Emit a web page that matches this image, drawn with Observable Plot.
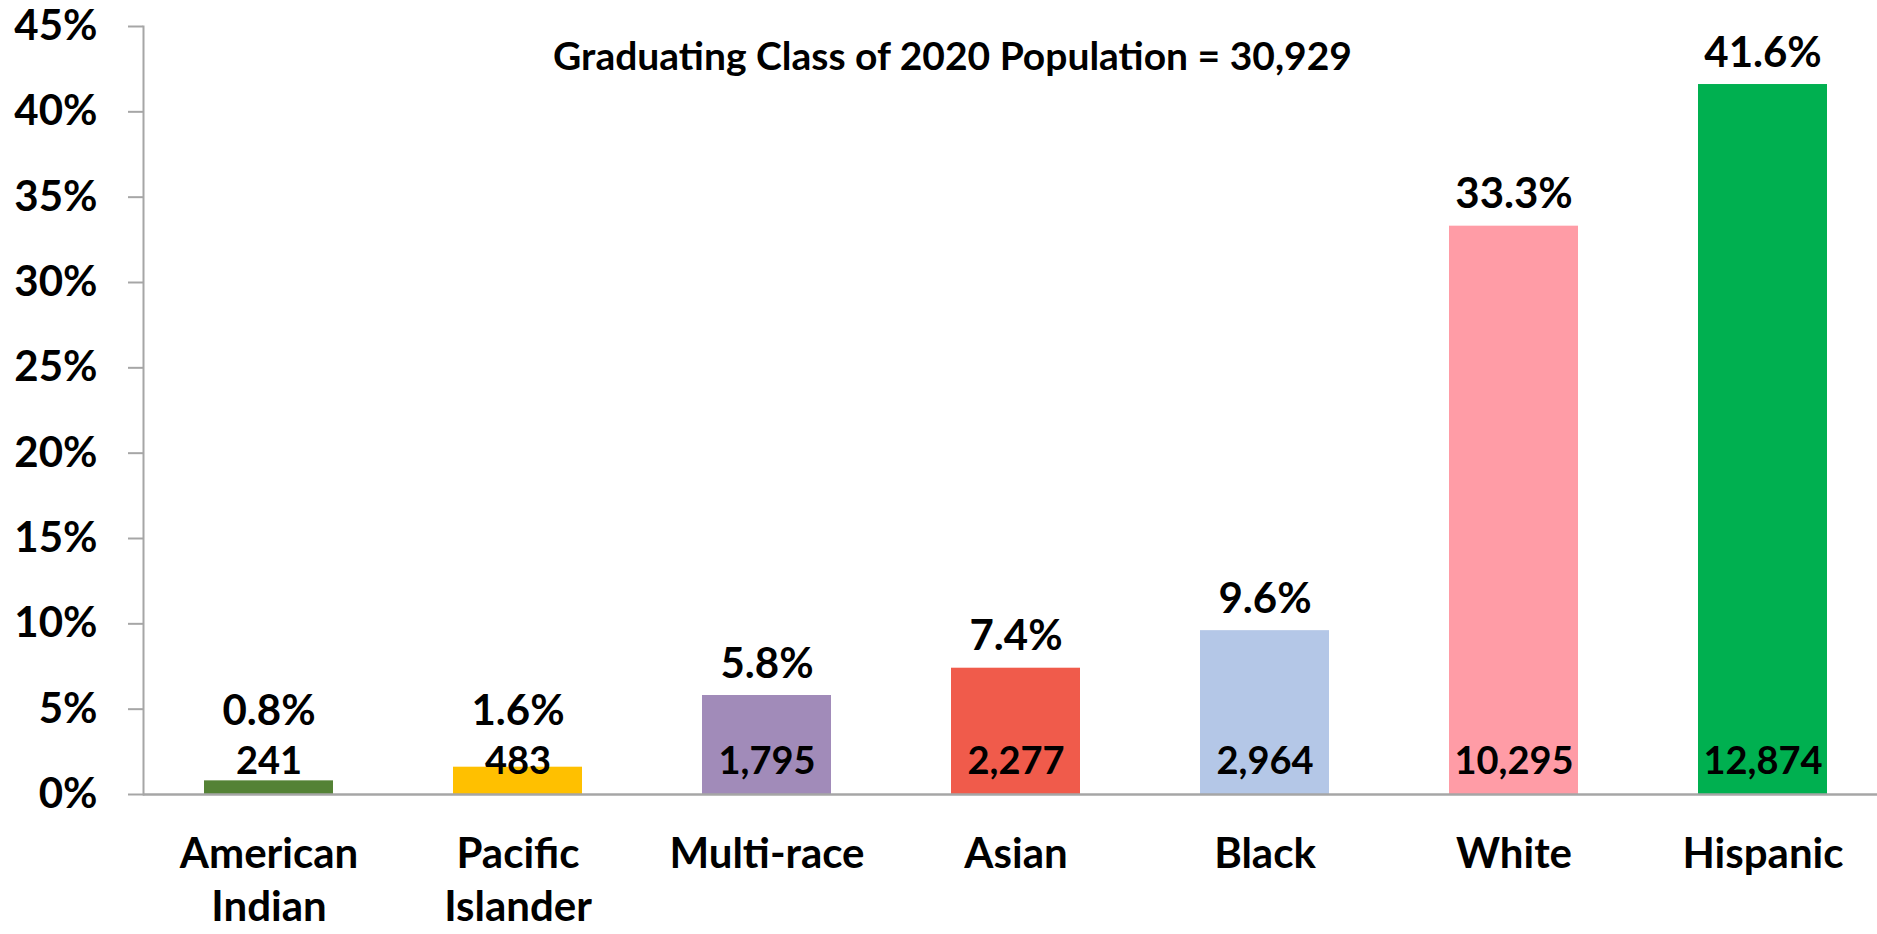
<!DOCTYPE html>
<html>
<head>
<meta charset="utf-8">
<script src="https://cdn.jsdelivr.net/npm/d3@7"></script>
<script src="https://cdn.jsdelivr.net/npm/@observablehq/plot@0.6"></script>
<style>
  html, body { margin: 0; padding: 0; background: #fff; overflow: hidden; }
  #wrap { position: relative; width: 1877px; height: 934px; }
  #title { position: absolute; top: 32px; left: 0; width: 1877px; padding-left: 28px; box-sizing: border-box;
           text-align: center; font-family: Lato, "Liberation Sans", sans-serif; font-weight: bold; font-size: 39px; color: #000; }
  svg { overflow: visible; }
</style>
</head>
<body>
<div id="wrap">
  <div id="chart"></div>
  <div id="title">Graduating Class of 2020 Population = 30,929</div>
</div>
<script>
const categories = ["American Indian", "Pacific Islander", "Multi-race", "Asian", "Black", "White", "Hispanic"];
const axisLabels = ["American\nIndian", "Pacific\nIslander", "Multi-race", "Asian", "Black", "White", "Hispanic"];
const percents = [0.8, 1.6, 5.8, 7.4, 9.6, 33.3, 41.6];
const counts = [241, 483, 1795, 2277, 2964, 10295, 12874];
const colors = ["#548235", "#ffc000", "#a18bb9", "#f05b4b", "#b4c7e7", "#ff9ca6", "#00b050"];
const yTicks = [0, 5, 10, 15, 20, 25, 30, 35, 40, 45];

const data = categories.map((c, i) => ({cat: c, pct: percents[i], count: counts[i]}));
const labelOf = new Map(categories.map((c, i) => [c, axisLabels[i]]));
const gray = "#a6a6a6";

const chart = Plot.plot({
  width: 1877,
  height: 934,
  marginTop: 26,
  marginBottom: 140,
  marginLeft: 143,
  marginRight: -11,
  style: {fontFamily: "Lato, 'Liberation Sans', sans-serif", color: "#000", background: "#fff"},
  x: {domain: categories, paddingInner: 0.48, paddingOuter: 0.24},
  y: {domain: [0, 45]},
  color: {domain: categories, range: colors},
  marks: [
    Plot.barY(data, {x: "cat", y: "pct", fill: "cat"}),
    Plot.frame({anchor: "left", stroke: gray, strokeWidth: 2}),
    Plot.ruleY([0], {stroke: gray, strokeWidth: 2.5}),
    Plot.axisY({ticks: yTicks, tickFormat: d => d + "%", tickSize: 15, tickPadding: 31,
                fontSize: 42, fontWeight: "bold", stroke: gray, strokeWidth: 2, fill: "#000", label: null}),
    Plot.axisX({tickSize: 0, tickPadding: 36, fontSize: 42, fontWeight: "bold", lineHeight: 1.26,
                tickFormat: d => labelOf.get(d), fill: "#000", label: null}),
    Plot.text(data, {x: "cat", y: d => Math.max(d.pct, 3), text: d => d.pct.toFixed(1) + "%",
                     lineAnchor: "bottom", dy: -18, fontSize: 42, fontWeight: "bold", fill: "#000"}),
    Plot.text(data, {x: "cat", y: d => 0, text: d => d3.format(",")(d.count),
                     lineAnchor: "middle", dy: -33, fontSize: 38, fontWeight: "bold", fill: "#000"})
  ]
});
document.getElementById("chart").appendChild(chart);
</script>
</body>
</html>
